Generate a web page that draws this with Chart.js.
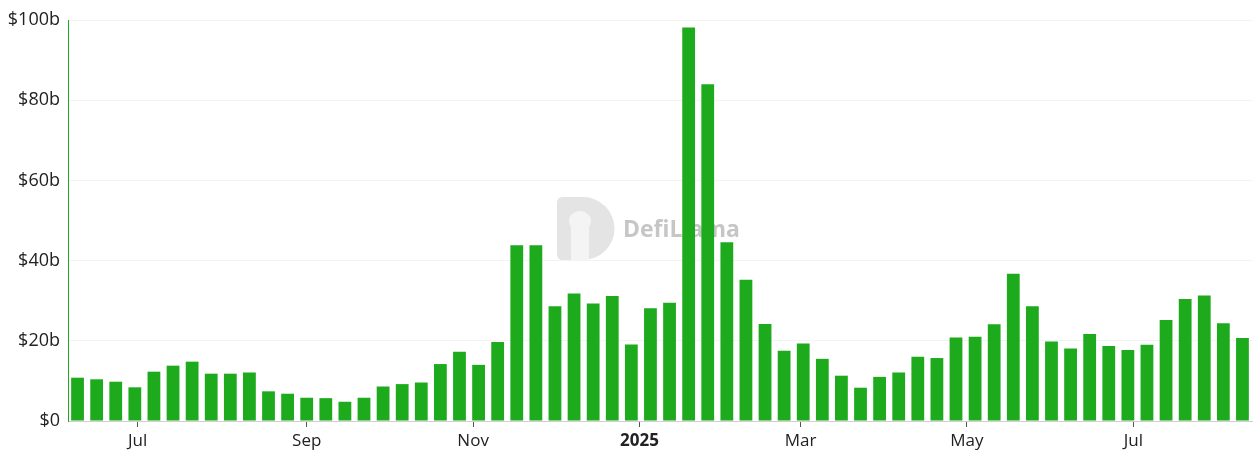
<!DOCTYPE html>
<html>
<head>
<meta charset="utf-8">
<script src="https://cdn.jsdelivr.net/npm/chart.js@4/dist/chart.umd.min.js"></script>
<style>
html,body{margin:0;padding:0;background:#fff;}
#wrap{width:1256px;height:459px;position:relative;}
</style>
</head>
<body>
<div id="wrap"><canvas id="c" width="1256" height="459"></canvas></div>
<script>
const weeks = ['2024-06-09','2024-06-16','2024-06-23','2024-06-30','2024-07-07','2024-07-14','2024-07-21','2024-07-28','2024-08-04','2024-08-11',
'2024-08-18','2024-08-25','2024-09-01','2024-09-08','2024-09-15','2024-09-22','2024-09-29','2024-10-06','2024-10-13','2024-10-20',
'2024-10-27','2024-11-03','2024-11-10','2024-11-17','2024-11-24','2024-12-01','2024-12-08','2024-12-15','2024-12-22','2024-12-29',
'2025-01-05','2025-01-12','2025-01-19','2025-01-26','2025-02-02','2025-02-09','2025-02-16','2025-02-23','2025-03-02','2025-03-09',
'2025-03-16','2025-03-23','2025-03-30','2025-04-06','2025-04-13','2025-04-20','2025-04-27','2025-05-04','2025-05-11','2025-05-18',
'2025-05-25','2025-06-01','2025-06-08','2025-06-15','2025-06-22','2025-06-29','2025-07-06','2025-07-13','2025-07-20','2025-07-27',
'2025-08-03','2025-08-10'];
const volumes = [10.8,10.4,9.8,8.4,12.3,13.8,14.8,11.8,11.8,12.1,
7.4,6.8,5.8,5.7,4.8,5.8,8.6,9.2,9.6,14.2,
17.3,14.0,19.7,43.8,43.8,28.6,31.8,29.3,31.2,19.1,
28.1,29.5,98.1,84.0,44.6,35.2,24.2,17.5,19.3,15.5,
11.3,8.3,11.0,12.1,16.0,15.7,20.8,21.0,24.1,36.7,
28.6,19.8,18.1,21.7,18.7,17.7,19.0,25.2,30.4,31.3,24.4,20.7];
const xTickDates = ['2024-07-01','2024-09-01','2024-11-01','2025-01-01','2025-03-01','2025-05-01','2025-07-01'];
const xTickLabels = ['Jul','Sep','Nov','2025','Mar','May','Jul'];
const yTicks = [0,20,40,60,80,100];

const day = s => Date.UTC(+s.slice(0,4), +s.slice(5,7)-1, +s.slice(8,10)) / 86400000;
const points = weeks.map((w,i)=>({x:day(w), y:volumes[i]}));
const tickVals = xTickDates.map(day);
const labelFor = {};
tickVals.forEach((v,i)=>labelFor[v]=xTickLabels[i]);

const watermark = {
  id:'watermark',
  beforeDatasetsDraw(chart){
    const ctx = chart.ctx;
    ctx.save();
    ctx.fillStyle = '#e4e4e4';
    const x0=557, y0=197, w=56, h=63;
    ctx.beginPath();
    ctx.moveTo(x0+6,y0);
    ctx.lineTo(x0+w-30,y0);
    ctx.arc(x0+w-30, y0+h/2, h/2, -Math.PI/2, Math.PI/2);
    ctx.lineTo(x0+6,y0+h);
    ctx.quadraticCurveTo(x0,y0+h,x0,y0+h-6);
    ctx.lineTo(x0,y0+6);
    ctx.quadraticCurveTo(x0,y0,x0+6,y0);
    ctx.fill();
    ctx.fillStyle = '#f4f4f4';
    ctx.fillRect(x0+14,y0+22,18,41);
    ctx.beginPath();
    ctx.ellipse(x0+23,y0+24,11,10,0,0,Math.PI*2);
    ctx.fill();
    ctx.fillStyle = '#c6c6c6';
    ctx.font = 'bold 23px "Open Sans", sans-serif';
    ctx.textBaseline = 'middle';
    ctx.fillText('DefiLlama', 623, 230);
    ctx.restore();
  }
};

new Chart(document.getElementById('c'), {
  type:'bar',
  data:{datasets:[{
    data:points,
    backgroundColor:'#1dab1d',
    borderWidth:0,
    categoryPercentage:1,
    barPercentage:0.67
  }]},
  options:{
    responsive:false,
    animation:false,
    layout:{padding:{left:0,right:4,top:20,bottom:0}},
    plugins:{legend:{display:false},tooltip:{enabled:false}},
    scales:{
      x:{
        type:'linear',
        offset:false,
        min:day(weeks[0])-3.5,
        max:day(weeks[weeks.length-1])+3.5,
        afterBuildTicks(scale){ scale.ticks = tickVals.map(v=>({value:v})); },
        afterFit(scale){ scale.height = 38; },
        grid:{offset:false, drawOnChartArea:false, drawTicks:true, tickLength:6, tickColor:'#555', lineWidth:1},
        border:{color:'#cfcfcf', width:1},
        ticks:{
          autoSkip:false, maxRotation:0,
          padding:4,
          color:'#222',
          font:(c)=>({family:'"Open Sans", sans-serif', size:17, weight: (c.tick && c.tick.label==='2025') ? 'bold' : 'normal'}),
          callback:(v)=>labelFor[v] || ''
        }
      },
      y:{
        min:0,max:100,
        afterBuildTicks(scale){ scale.ticks = yTicks.map(v=>({value:v})); },
        afterFit(scale){ scale.width = 68; },
        grid:{color:'#f3f3f3', drawTicks:false, lineWidth:1},
        border:{color:'#1dab1d', width:1},
        ticks:{
          padding:8,
          color:'#222',
          font:{family:'"Open Sans", sans-serif', size:18},
          callback:(v)=> v===0 ? '$0' : '$'+v+'b'
        }
      }
    }
  },
  plugins:[watermark]
});
</script>
</body>
</html>
